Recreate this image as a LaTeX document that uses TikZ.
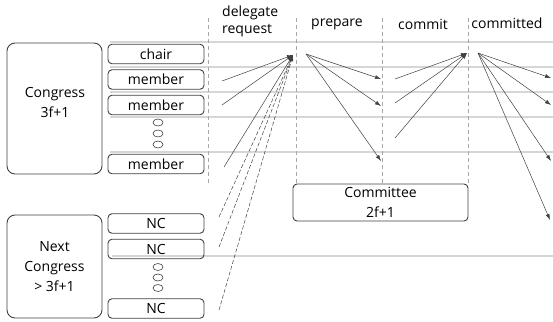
\documentclass[tikz,border=0pt]{standalone}
\usepackage{fontspec}
\setmainfont{Open Sans}
\usetikzlibrary{arrows.meta}
\usetikzlibrary{shapes.geometric}
\definecolor{rowline}{HTML}{D6D6D6}
\definecolor{colline}{HTML}{A8A8A8}
\definecolor{boxline}{HTML}{404040}
\definecolor{arrowcol}{HTML}{404040}
\tikzset{
  bigbox/.style={draw=boxline, line width=0.9pt, rounded corners=8pt, minimum width=95pt, inner sep=0pt, align=center},
  smallbox/.style={draw=boxline, line width=0.9pt, rounded corners=4pt, minimum width=96pt, minimum height=19.5pt, inner sep=0pt, align=center},
  rowrule/.style={draw=rowline, line width=1.3pt},
  colrule/.style={draw=colline, line width=0.6pt, dash pattern=on 4pt off 3pt},
  msg/.style={draw=arrowcol, line width=0.5pt, -{Latex[length=6pt,width=4pt]}},
  msgd/.style={msg, dash pattern=on 4pt off 2pt},
  dot/.style={draw=boxline, line width=0.6pt, ellipse, inner sep=0pt, minimum width=10pt, minimum height=7pt},
  lbl/.style={inner sep=0pt, align=center}
}
\begin{document}
\begin{tikzpicture}[x=1pt,y=-1pt, font=\fontsize{14}{20}\selectfont]
\useasboundingbox (0,0) rectangle (553,321);
% row rules
\foreach \y in {42,67,92,117,152} \draw[rowrule] (110,\y) -- (553,\y);
\draw[rowrule] (112,256) -- (553,256);
% column rules
\foreach \x in {208,296,382,468} \draw[colrule] (\x,18) -- (\x,185);
% column labels
\node[lbl, anchor=west] (hdr1) at (222,13) {delegate};
\node[lbl, anchor=west] (hdr1b) at (222,31) {request};
\node[lbl] (hdr2) at (337,24) {prepare};
\node[lbl] (hdr3) at (423,24) {commit};
\node[lbl] (hdr4) at (507,23) {committed};
% congress
\node[bigbox, minimum height=131pt] (cong) at (54.5,108.5) {};
\node[lbl] (congt) at (55,102) {Congress\\3f+1};
\node[smallbox] (chair) at (156,54) {chair};
\node[smallbox] (m1) at (156,79.5) {member};
\node[smallbox] (m2) at (156,105) {member};
\node[dot] (d1) at (158,122.5) {};
\node[dot] (d2) at (158,133.5) {};
\node[dot] (d3) at (158,144.5) {};
\node[smallbox] (m3) at (156,164) {member};
% next congress
\node[bigbox, minimum height=103pt] (ncong) at (54.5,266.5) {Next\\Congress\\> 3f+1};
\node[smallbox] (nc1) at (156,223.5) {NC};
\node[smallbox] (nc2) at (156,249) {NC};
\node[dot] (e1) at (158,267) {};
\node[dot] (e2) at (158,277.5) {};
\node[dot] (e3) at (158,288) {};
\node[smallbox] (nc3) at (156,308.5) {NC};
% committee
\node[smallbox, minimum width=175pt, minimum height=37pt] (comm) at (380.5,202.5) {Committee\\2f+1};
% delegate request
\coordinate (dr) at (293,55);
\coordinate (s1) at (222,81);
\coordinate (s2) at (222,105);
\coordinate (s3) at (224,167);
\coordinate (s4) at (219,217);
\coordinate (s5) at (219,247);
\coordinate (s6) at (219,310);
\draw[msg] (s1) -- (dr);
\draw[msg] (s2) -- (dr);
\draw[msg] (s3) -- (dr);
\draw[msgd] (s4) -- (dr);
\draw[msgd] (s5) -- (dr);
\draw[msgd] (s6) -- (dr);
% prepare
\coordinate (ps) at (306,54);
\coordinate (p1) at (381,79);
\coordinate (p2) at (381,106);
\coordinate (p3) at (381,161);
\draw[msg] (ps) -- (p1);
\draw[msg] (ps) -- (p2);
\draw[msg] (ps) -- (p3);
% commit
\coordinate (ct) at (467,53);
\coordinate (c1) at (395,79);
\coordinate (c2) at (395,103);
\coordinate (c3) at (395,138);
\draw[msg] (c1) -- (ct);
\draw[msg] (c2) -- (ct);
\draw[msg] (c3) -- (ct);
% committed
\coordinate (ks) at (478,53);
\coordinate (k1) at (551,78);
\coordinate (k2) at (551,105);
\coordinate (k3) at (551,161);
\coordinate (k4) at (550,220);
\draw[msg] (ks) -- (k1);
\draw[msg] (ks) -- (k2);
\draw[msg] (ks) -- (k3);
\draw[msg] (ks) -- (k4);
\end{tikzpicture}
\end{document}
